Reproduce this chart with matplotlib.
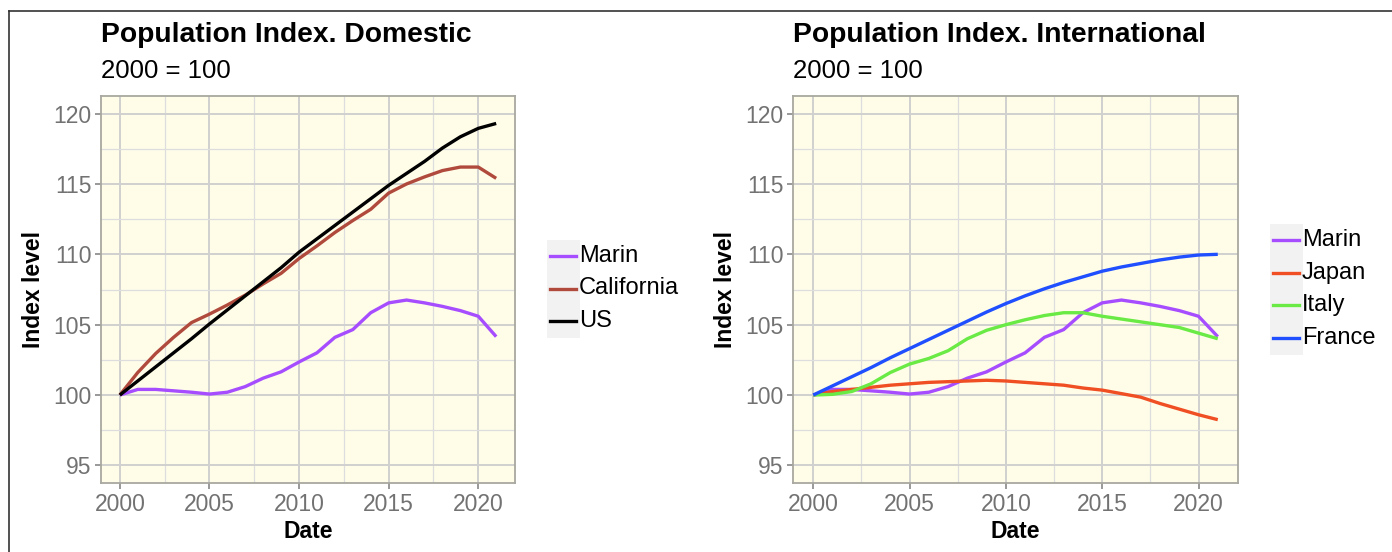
import matplotlib.pyplot as plt
from matplotlib.lines import Line2D
from matplotlib.patches import Rectangle
from matplotlib.ticker import MultipleLocator

plt.rcParams["font.family"] = ["Liberation Sans", "DejaVu Sans"]

# Dados
anos = list(range(2000, 2022))
marin = [100.0, 100.4, 100.4, 100.3, 100.2, 100.07, 100.2, 100.6, 101.2, 101.65, 102.35,
         103.0, 104.1, 104.65, 105.85, 106.55, 106.75, 106.55, 106.3, 106.0, 105.6, 104.15]
california = [100.0, 101.6, 102.95, 104.1, 105.15, 105.75, 106.4, 107.1, 107.9, 108.65, 109.7,
              110.6, 111.55, 112.4, 113.2, 114.35, 115.0, 115.5, 115.95, 116.2, 116.2, 115.4]
us = [100.0, 101.0, 102.0, 103.0, 104.0, 105.05, 106.05, 107.05, 108.05, 109.05, 110.15,
      111.1, 112.05, 113.0, 113.95, 114.9, 115.75, 116.6, 117.55, 118.35, 118.95, 119.3]
japao = [100.0, 100.25, 100.4, 100.55, 100.7, 100.8, 100.9, 100.95, 101.0, 101.05, 101.0,
         100.9, 100.8, 100.7, 100.5, 100.35, 100.1, 99.85, 99.4, 99.0, 98.6, 98.25]
italia = [100.0, 100.05, 100.25, 100.8, 101.6, 102.2, 102.6, 103.15, 104.0, 104.6, 105.0,
          105.35, 105.65, 105.85, 105.85, 105.6, 105.4, 105.2, 105.0, 104.8, 104.4, 104.0]
franca = [100.0, 100.65, 101.3, 101.95, 102.65, 103.3, 103.95, 104.6, 105.25, 105.9, 106.5,
          107.05, 107.55, 108.0, 108.4, 108.8, 109.1, 109.35, 109.6, 109.8, 109.95, 110.0]

domestico = [("Marin", marin, "#a64dff"), ("California", california, "#b04a3c"), ("US", us, "#000000")]
internacional = [("Marin", marin, "#a64dff"), ("Japan", japao, "#f04e23"),
                 ("Italy", italia, "#6aea44"), ("France", franca, "#1f4fff")]

W, H = 1392, 552
fig = plt.figure(figsize=(W / 100, H / 100), dpi=100)

# moldura da captura (só topo e esquerda)
fig.add_artist(Line2D([9 / W, 9 / W], [0, 1 - 11 / H], color="#333333", lw=1.2))
fig.add_artist(Line2D([9 / W, 1], [1 - 11 / H, 1 - 11 / H], color="#333333", lw=1.2))


def painel(rect, series, titulo, leg_x, leg_y):
    ax = fig.add_axes(rect)
    ax.set_facecolor("#fffde8")
    for nome, valores, cor in series:
        ax.plot(anos, valores, color=cor, lw=2.4, label=nome, solid_capstyle="butt")
    ax.set_xlim(1998.95, 2022.05)
    ax.set_ylim(93.75, 121.25)
    ax.xaxis.set_major_locator(MultipleLocator(5))
    ax.xaxis.set_minor_locator(MultipleLocator(2.5))
    ax.yaxis.set_major_locator(MultipleLocator(5))
    ax.yaxis.set_minor_locator(MultipleLocator(2.5))
    ax.grid(which="major", color="#d0d0d0", lw=1.4)
    ax.grid(which="minor", color="#dddddd", lw=0.9)
    ax.set_axisbelow(True)
    for s in ax.spines.values():
        s.set_color("#a8a8a0")
        s.set_linewidth(1.3)
    ax.tick_params(which="major", length=4, width=1.2, color="#888888",
                   labelcolor="#727272", labelsize=16.5, pad=3)
    ax.tick_params(which="minor", length=0)
    ax.set_xlabel("Date", fontsize=16.5, fontweight="bold", labelpad=3)
    ax.set_ylabel("Index level", fontsize=16.5, fontweight="bold", labelpad=6)
    x0 = rect[0]
    fig.text(x0, 1 - 35 / H, titulo, fontsize=20.3, fontweight="bold", va="center", ha="left")
    fig.text(x0, 1 - 71 / H, "2000 = 100", fontsize=18.5, va="center", ha="left")

    # legenda: fundo cinza atrás das chaves, depois chaves e nomes
    n = len(series)
    passo = 32.5
    fig.add_artist(Rectangle((leg_x / W, 1 - (leg_y + 16 + (n - 1) * passo + 17) / H), 33 / W,
                             (33 + (n - 1) * passo) / H, transform=fig.transFigure,
                             facecolor="#f2f2f2", edgecolor="none", zorder=0))
    for i, (nome, _, cor) in enumerate(series):
        yy = 1 - (leg_y + 16 + i * passo) / H
        fig.add_artist(Line2D([(leg_x + 3) / W, (leg_x + 29) / W], [yy, yy], color=cor, lw=2.4))
        fig.text((leg_x + 32) / W, yy, nome, fontsize=17, va="center", ha="left")
    return ax


painel([101 / W, 1 - 483 / H, 414 / W, 387 / H], domestico,
       "Population Index. Domestic", 547, 240)
painel([793 / W, 1 - 483 / H, 445 / W, 387 / H], internacional,
       "Population Index. International", 1270, 224)

fig.savefig("out.png", dpi=100)
